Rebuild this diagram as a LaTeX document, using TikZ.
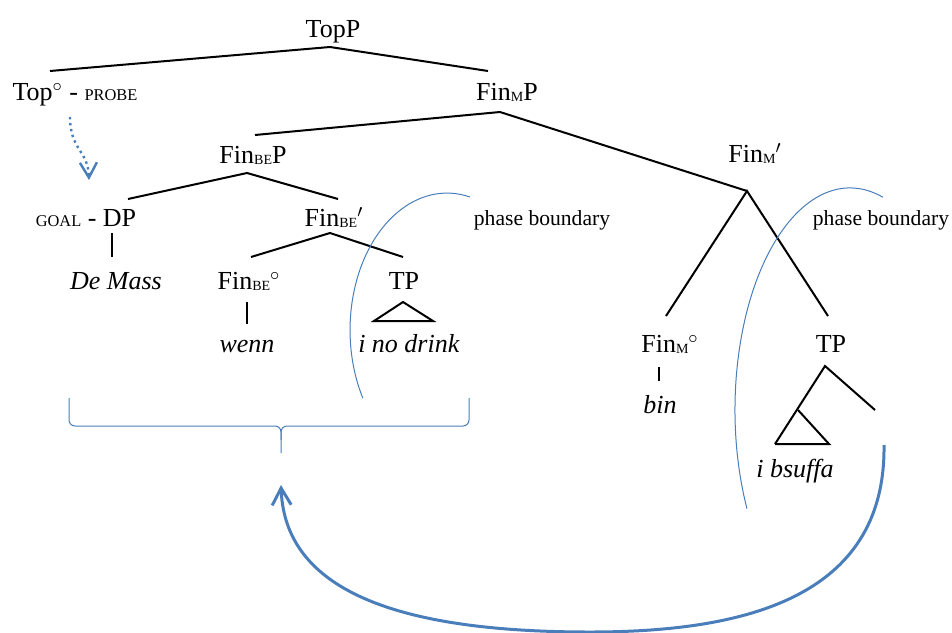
\documentclass[tikz,border=0pt]{standalone}
\usepackage{fontspec}
\setmainfont{Liberation Serif}
\usetikzlibrary{arrows.meta}
\definecolor{bl}{HTML}{4A7EBB}
\newcommand\Sb[1]{\raisebox{-0.7pt}{\fontsize{7}{8}\selectfont #1}}
\newcommand\Sm[1]{{\fontsize{8.2}{9}\selectfont #1}}
\begin{document}
\begin{tikzpicture}[x=0.5pt,y=-0.5pt,
  lbl/.style={anchor=base,inner sep=0pt,font=\fontsize{13}{15}\selectfont},
  smalllbl/.style={anchor=base,inner sep=0pt,font=\fontsize{10.8}{13}\selectfont},
  br/.style={line width=1pt,black},
  pb/.style={bl,line width=0.5pt},
  bigarrow/.style={bl,line width=1.5pt,-{Straight Barb[length=8.5pt,width=9.5pt]}},
  dotarrow/.style={bl,line width=1.2pt,dash pattern=on 1.2pt off 1.8pt,-{Straight Barb[length=7.5pt,width=8.5pt]}}
]
\useasboundingbox (0,0) rectangle (952,632);

% labels
\node[lbl] (topp) at (333,37) {TopP};
\node[lbl] (top) at (75,100) {Top$^{\circ}$ - \Sm{PROBE}};
\node[lbl] (finmp) at (507,100) {Fin\Sb{M}P};
\node[lbl] (finbep) at (253,163) {Fin\Sb{BE}P};
\node[lbl] (dp) at (86,226) {\Sm{GOAL} - DP};
\node[lbl] (demass) at (116,289) {\textit{De Mass}};
\node[lbl] (finbebar) at (334,226) {Fin\Sb{BE}$^{\prime}$};
\node[lbl] (finbehead) at (249,289) {Fin\Sb{BE}$^{\circ}$};
\node[lbl] (wenn) at (247,352) {\textit{wenn}};
\node[lbl] (tp1) at (404,289) {TP};
\node[lbl] (drink) at (409,352) {\textit{i no drink}};
\node[smalllbl] (pb1) at (542,225) {phase boundary};
\node[lbl] (finmbar) at (755,162) {Fin\Sb{M}$^{\prime}$};
\node[lbl] (finmhead) at (670,352) {Fin\Sb{M}$^{\circ}$};
\node[lbl] (bin) at (660,413) {\textit{bin}};
\node[lbl] (tp2) at (831,352) {TP};
\node[lbl] (bsuffa) at (795,477) {\textit{i bsuffa}};
\node[smalllbl] (pb2) at (881,225) {phase boundary};

% branch points
\coordinate (topp-b) at (330,47);
\coordinate (top-t) at (50,71);
\coordinate (finmp-t) at (488,71);
\coordinate (finmp-b) at (500,112);
\coordinate (finbep-t) at (255,135);
\coordinate (finmbar-b) at (747,191);
\coordinate (finbep-b) at (247,173);
\coordinate (dp-t) at (128,199);
\coordinate (finbebar-t) at (338,199);
\coordinate (dp-b) at (112,233);
\coordinate (demass-t) at (112,257);
\coordinate (finbebar-b) at (330,233);
\coordinate (finbehead-t) at (251,257);
\coordinate (tp1-t) at (403,257);
\coordinate (finbehead-b) at (247,302);
\coordinate (wenn-t) at (247,324);
\coordinate (tp1-b) at (403,302);
\coordinate (drink-l) at (374,321);
\coordinate (drink-r) at (433,321);
\coordinate (finmhead-t) at (666,316);
\coordinate (tp2-t) at (828,316);
\coordinate (finmhead-b) at (659,367);
\coordinate (bin-t) at (659,381);
\coordinate (tp2-b) at (825,366);
\coordinate (tp2-r) at (875,410);
\coordinate (tri-a) at (798,410);
\coordinate (bsuffa-l) at (775,444);
\coordinate (bsuffa-r) at (829,444);

% tree
\draw[br] (top-t) -- (topp-b) -- (finmp-t);
\draw[br] (finbep-t) -- (finmp-b) -- (finmbar-b);
\draw[br] (dp-t) -- (finbep-b) -- (finbebar-t);
\draw[br] (dp-b) -- (demass-t);
\draw[br] (finbehead-t) -- (finbebar-b) -- (tp1-t);
\draw[br] (finbehead-b) -- (wenn-t);
\draw[br] (drink-l) -- (tp1-b) -- (drink-r) -- cycle;
\draw[br] (finmhead-t) -- (finmbar-b) -- (tp2-t);
\draw[br] (finmhead-b) -- (bin-t);
\draw[br] (bsuffa-l) -- (tp2-b) -- (tp2-r);
\draw[br] (tri-a) -- (bsuffa-r) -- (bsuffa-l);

% phase boundaries
\draw[pb] (470,197) arc[start angle=-76.3, end angle=-209.8, x radius=97, y radius=137];
\draw[pb] (883,197.3) arc[start angle=-73.3, end angle=-206.4, x radius=115, y radius=222];

% brace
\draw[pb,rounded corners=3pt] (69,398) -- (69,426) -- (281,426) -- (281,453);
\draw[pb,rounded corners=3pt] (469,398) -- (469,426) -- (281,426) -- (281,440);

% arrows
\coordinate (probe-s) at (70,117);
\coordinate (goal-n) at (89,180);
\draw[dotarrow] (probe-s) .. controls (70,150) and (88,150) .. (goal-n);
\coordinate (src) at (884,445);
\coordinate (dst) at (281,485);
\draw[bigarrow] (src) .. controls (886,600) and (740,632) .. (590,632) .. controls (420,632) and (285,600) .. (dst);
\end{tikzpicture}
\end{document}
